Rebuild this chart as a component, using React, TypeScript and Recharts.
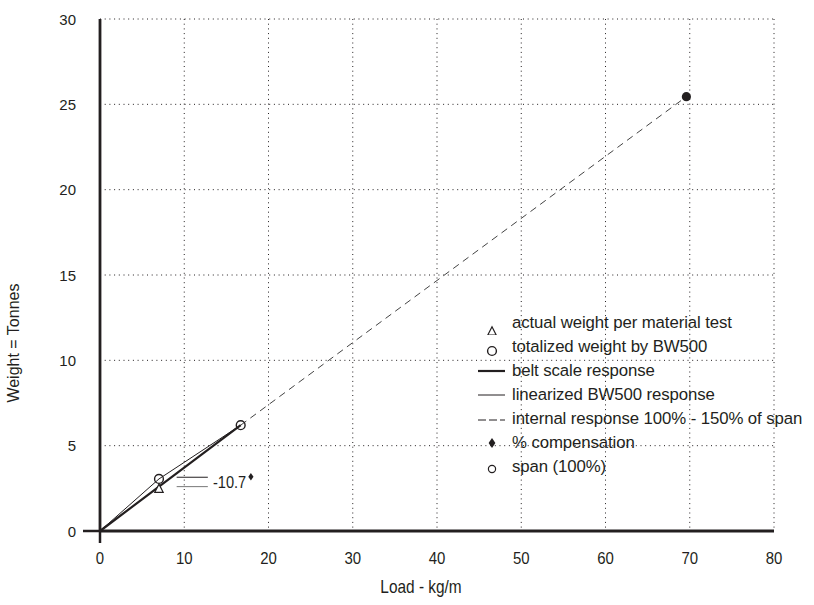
import React from 'react';
import {
  ComposedChart,
  Line,
  Scatter,
  XAxis,
  YAxis,
  CartesianGrid,
  ReferenceLine,
  ReferenceDot,
  Legend,
} from 'recharts';

const INK = '#231f20';
const PLAIN = '"Liberation Sans", Arial, Helvetica, sans-serif';

const xTicks = [0, 10, 20, 30, 40, 50, 60, 70, 80];
const yTicks = [0, 5, 10, 15, 20, 25, 30];

// load (kg/m) vs weight (tonnes)
const beltScale = [
  { x: 0, y: 0 },
  { x: 7, y: 2.6 },
  { x: 16.7, y: 6.2 },
];
const linearized = [
  { x: 0, y: 0 },
  { x: 7, y: 3.05 },
  { x: 16.7, y: 6.2 },
];
const internalResponse = [
  { x: 16.7, y: 6.2 },
  { x: 69.6, y: 25.45 },
];
const actualWeight = [{ x: 7, y: 2.5 }];
const totalizedWeight = [
  { x: 7, y: 3.05 },
  { x: 16.7, y: 6.2 },
];
const fullScale = [{ x: 69.6, y: 25.45 }];

const compensationLabel = '-10.7';
const compensationAt = { x: 13.4, y: 2.87 };
const leaderLines = [
  { from: 9.1, to: 12.8, y: 3.15, color: INK },
  { from: 9.1, to: 12.8, y: 2.6, color: '#777' },
];

const legendItems = [
  'actual weight per material test',
  'totalized weight by BW500',
  'belt scale response',
  'linearized BW500 response',
  'internal response 100% - 150% of span',
  '% compensation',
  'span (100%)',
];

// narrow-looking text: squeeze a regular sans horizontally
const Narrow = ({ x, y, size, squeeze, anchor = 'start', children }: any) => (
  <text
    transform={`translate(${x},${y}) scale(${squeeze},1)`}
    textAnchor={anchor}
    fill={INK}
    fontFamily={PLAIN}
    fontSize={size}
  >
    {children}
  </text>
);

const Triangle = (p: any) => (
  <path
    d={`M${p.cx},${p.cy - 4.2} L${p.cx + 4.2},${p.cy + 4} L${p.cx - 4.2},${p.cy + 4} Z`}
    fill="#fff"
    stroke={INK}
    strokeWidth={1.2}
  />
);
const Ring = (p: any) => <circle cx={p.cx} cy={p.cy} r={4.4} fill="none" stroke={INK} strokeWidth={1.4} />;
const Dot = (p: any) => <circle cx={p.cx} cy={p.cy} r={4.6} fill={INK} />;

const XTick = ({ x, y, payload }: any) => (
  <g>
    {payload.value === 0 && <line x1={x} x2={x} y1={y} y2={y + 12} stroke={INK} strokeWidth={2.5} />}
    <Narrow x={x} y={y + 33} size={17} squeeze={0.88} anchor="middle">
      {payload.value}
    </Narrow>
  </g>
);

const YTick = ({ x, y, payload }: any) => (
  <g>
    {payload.value === 0 && <line x1={x - 17} x2={x} y1={y} y2={y} stroke={INK} strokeWidth={2.5} />}
    <text x={x - 24} y={y + 5.5} textAnchor="end" fill={INK} fontFamily={PLAIN} fontSize={15}>
      {payload.value}
    </text>
  </g>
);

const YTitle = ({ viewBox }: any) => {
  const cx = viewBox.x + 14;
  const cy = viewBox.y + viewBox.height * 0.633;
  return (
    <text
      x={cx}
      y={cy}
      transform={`rotate(-90, ${cx}, ${cy})`}
      textAnchor="middle"
      dominantBaseline="central"
      fill={INK}
      fontFamily={PLAIN}
      fontSize={16}
    >
      Weight = Tonnes
    </text>
  );
};

const XTitle = ({ viewBox }: any) => (
  <Narrow x={viewBox.x + viewBox.width / 2 - 16} y={viewBox.y + 62} size={17.5} squeeze={0.88} anchor="middle">
    Load - kg/m
  </Narrow>
);

const CompLabel = ({ viewBox }: any) => {
  const { x, y } = viewBox;
  return (
    <g>
      <Narrow x={x} y={y + 6} size={17} squeeze={0.86}>
        {compensationLabel}
      </Narrow>
      <path d={`M${x + 38},${y - 9} l2.6,3.8 l-2.6,3.8 l-2.6,-3.8 Z`} fill={INK} />
    </g>
  );
};

const legendSymbol = (i: number) => {
  switch (i) {
    case 0:
      return <Triangle cx={16} cy={20} />;
    case 1:
      return <Ring cx={16} cy={16} />;
    case 2:
      return <line x1={2} x2={29} y1={12} y2={12} stroke={INK} strokeWidth={2.2} />;
    case 3:
      return <line x1={2} x2={29} y1={12} y2={12} stroke={INK} strokeWidth={1} />;
    case 4:
      return <line x1={2} x2={29} y1={13} y2={13} stroke={INK} strokeWidth={1} strokeDasharray="8 3" />;
    case 5:
      return <path d="M16,7 l3.4,5 l-3.4,5 l-3.4,-5 Z" fill={INK} />;
    default:
      return <circle cx={16} cy={14} r={3.6} fill="none" stroke={INK} strokeWidth={1.2} />;
  }
};

const LegendBox = () => (
  <div style={{ fontFamily: PLAIN, fontSize: 16.8, letterSpacing: -0.1, color: INK }}>
    {legendItems.map((item, i) => (
      <div key={item} style={{ display: 'flex', alignItems: 'center', height: 24, whiteSpace: 'nowrap' }}>
        <svg width={36} height={24} style={{ flex: 'none' }}>
          {legendSymbol(i)}
        </svg>
        <span>{item}</span>
      </div>
    ))}
  </div>
);

export default function App() {
  return (
    <div style={{ position: 'absolute', left: 0, top: 0, width: 814, height: 605, background: '#fff' }}>
      <ComposedChart width={814} height={605} margin={{ top: 19, right: 40, left: 0, bottom: 0 }}>
        <CartesianGrid stroke={INK} strokeDasharray="1 3.7" strokeWidth={1} />
        <XAxis
          type="number"
          dataKey="x"
          domain={[0, 80]}
          ticks={xTicks}
          height={74}
          axisLine={false}
          tickLine={false}
          tickSize={0}
          tickMargin={0}
          tick={<XTick />}
          label={<XTitle />}
        />
        <YAxis
          type="number"
          dataKey="y"
          domain={[0, 30]}
          ticks={yTicks}
          width={100}
          axisLine={false}
          tickLine={false}
          tickSize={0}
          tickMargin={0}
          tick={<YTick />}
          label={<YTitle />}
        />
        <ReferenceLine
          segment={[{ x: 0, y: 0 }, { x: 80, y: 0 }]}
          stroke={INK}
          strokeWidth={2.8}
          ifOverflow="visible"
        />
        <ReferenceLine
          segment={[{ x: 0, y: 0 }, { x: 0, y: 30 }]}
          stroke={INK}
          strokeWidth={2.8}
          ifOverflow="visible"
        />
        {leaderLines.map((l, i) => (
          <ReferenceLine
            key={i}
            segment={[{ x: l.from, y: l.y }, { x: l.to, y: l.y }]}
            stroke={l.color}
            strokeWidth={1}
            ifOverflow="visible"
          />
        ))}
        <ReferenceDot
          x={compensationAt.x}
          y={compensationAt.y}
          r={0}
          stroke="none"
          fill="none"
          label={<CompLabel />}
          ifOverflow="visible"
        />
        <Line
          data={internalResponse}
          dataKey="y"
          type="linear"
          stroke="#444"
          strokeWidth={1}
          strokeDasharray="7 5"
          dot={false}
          activeDot={false}
          legendType="none"
          isAnimationActive={false}
        />
        <Line
          data={linearized}
          dataKey="y"
          type="linear"
          stroke={INK}
          strokeWidth={1}
          dot={false}
          activeDot={false}
          legendType="none"
          isAnimationActive={false}
        />
        <Line
          data={beltScale}
          dataKey="y"
          type="linear"
          stroke={INK}
          strokeWidth={2.2}
          dot={false}
          activeDot={false}
          legendType="none"
          isAnimationActive={false}
        />
        <Scatter data={actualWeight} dataKey="y" shape={Triangle} legendType="none" isAnimationActive={false} />
        <Scatter data={totalizedWeight} dataKey="y" shape={Ring} legendType="none" isAnimationActive={false} />
        <Scatter data={fullScale} dataKey="y" shape={Dot} legendType="none" isAnimationActive={false} />
        <Legend
          layout="vertical"
          align="center"
          verticalAlign="middle"
          content={<LegendBox />}
          wrapperStyle={{ left: 476, top: 311, width: 338, height: 170 }}
        />
      </ComposedChart>
    </div>
  );
}
